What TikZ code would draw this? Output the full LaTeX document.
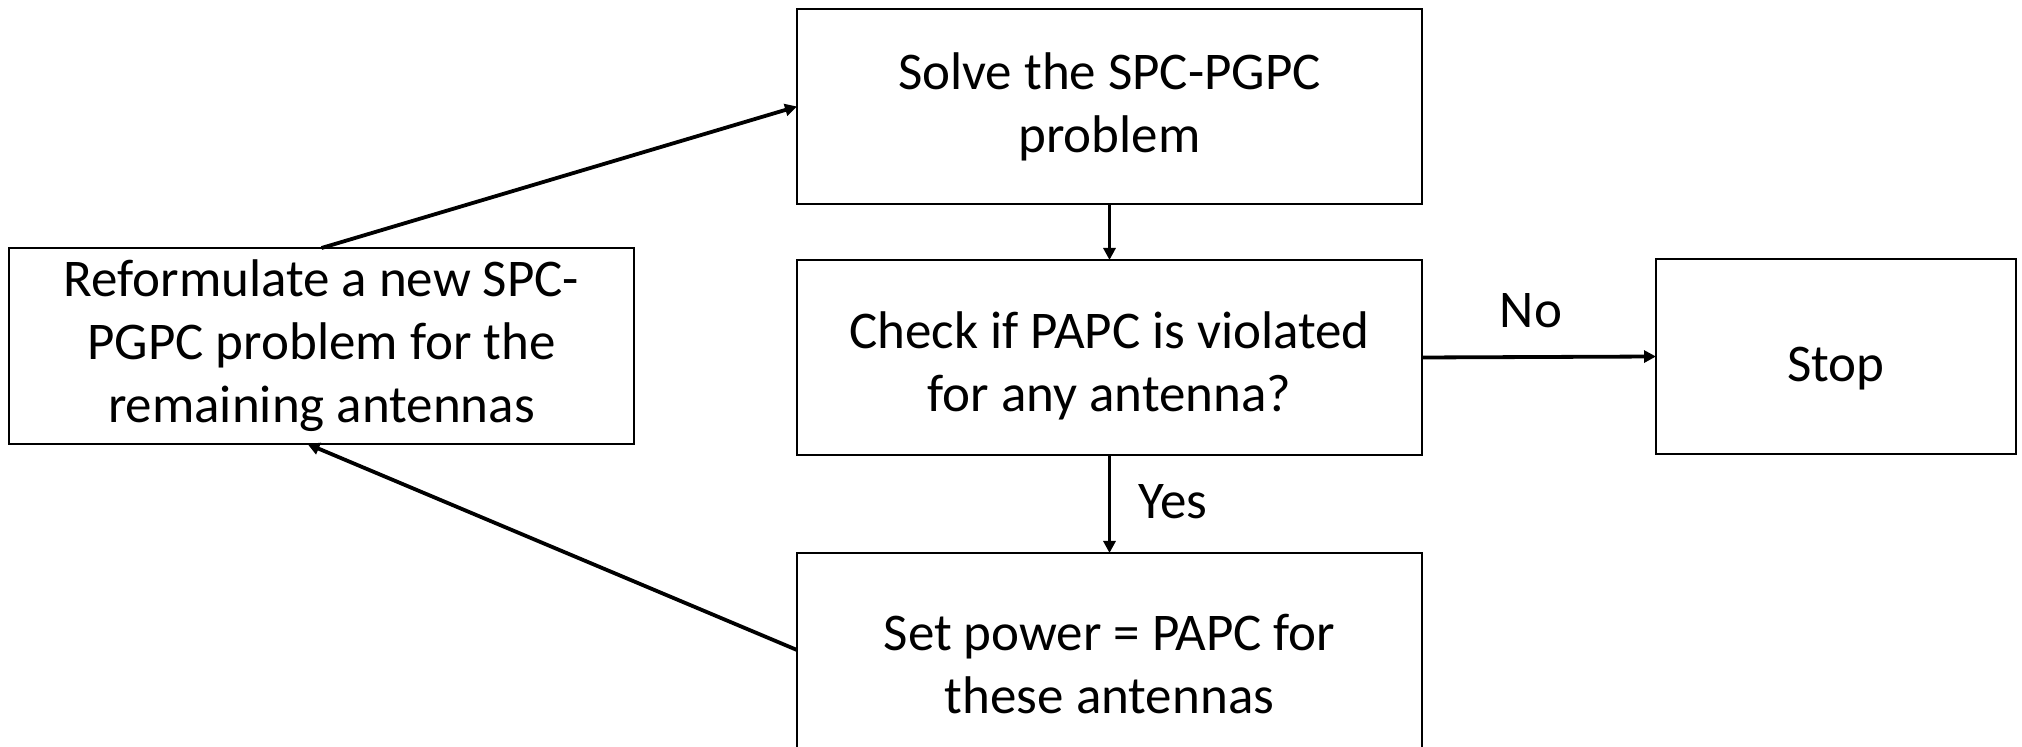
\documentclass[tikz,border=0pt]{standalone}
\usepackage{fontspec}
\setmainfont{Carlito}
\usetikzlibrary{arrows.meta}
\tikzset{
  boxnode/.style={draw=black, line width=1.2pt, rectangle, inner sep=0pt, outer sep=0pt,
    minimum width=312.5pt, minimum height=97.5pt, align=center,
    font=\fontsize{26.5pt}{31.5pt}\selectfont},
  lbl/.style={inner sep=0pt, font=\fontsize{26.5pt}{31pt}\selectfont},
  arr/.style={line width=1.9pt, -{Triangle[length=6pt,width=6pt]}}
}
\begin{document}
\begin{tikzpicture}[x=0.5pt,y=-0.5pt]
\useasboundingbox (0,0) rectangle (2022,747);
\clip (0,0) rectangle (2022,747);
\node[boxnode] (solve) at (1109.5,106.5) {Solve the SPC-PGPC\\problem};
\node[boxnode, text height=58pt] (check) at (1109.5,357.5) {Check if PAPC is violated\\for any antenna?};
\node[boxnode, minimum width=180pt, text height=25pt, text depth=0pt] (stop) at (1836,356.5) {Stop};
\node[boxnode, minimum height=98pt] (reform) at (321.5,346) {Reformulate a new SPC-\\PGPC problem for the\\remaining antennas};
\node[boxnode, minimum height=111pt] (set) at (1109.5,664) {Set power = PAPC for\\these antennas};
\node[lbl] (no) at (1531,311) {No};
\node[lbl] (yes) at (1173,502) {Yes};
\draw[arr] (solve.south) -- (check.north);
\draw[arr] (check.east) -- (stop.west);
\draw[arr] (check.south) -- (set.north);
\draw[arr] ([yshift=7pt]set.west) -- ([xshift=-7pt]reform.south);
\draw[arr] (reform.north) -- (solve.west);
\end{tikzpicture}
\end{document}
